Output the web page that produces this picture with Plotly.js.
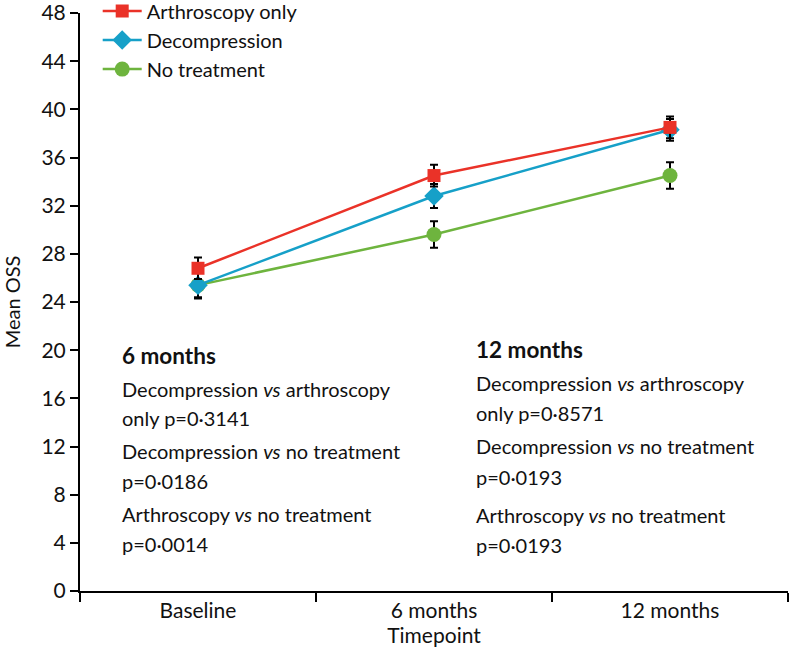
<!DOCTYPE html>
<html>
<head>
<meta charset="utf-8">
<script src="https://cdn.plot.ly/plotly-3.0.1.min.js"></script>
<style>
  body { margin: 0; background: #fff; }
  #chart { width: 790px; height: 649px; }
</style>
</head>
<body>
<div id="chart"></div>
<script>
var timepoints = ['Baseline', '6 months', '12 months'];

var arthroMean = [26.8, 34.5, 38.5];
var arthroErr = [0.9, 0.9, 0.9];
var decompMean = [25.4, 32.8, 38.3];
var decompErr = [1.0, 1.0, 0.9];
var noTreatMean = [25.4, 29.6, 34.5];
var noTreatErr = [1.1, 1.1, 1.1];

var yTicks = [0, 4, 8, 12, 16, 20, 24, 28, 32, 36, 40, 44, 48];

// p value text blocks
var leftNotes = ['<b>6 months</b>',
  'Decompression <i>vs</i> arthroscopy', 'only p=0·3141',
  'Decompression <i>vs</i> no treatment', 'p=0·0186',
  'Arthroscopy <i>vs</i> no treatment', 'p=0·0014'];
var leftNoteY = [355, 389, 418, 451, 481, 514, 544];
var rightNotes = ['<b>12 months</b>',
  'Decompression <i>vs</i> arthroscopy', 'only p=0·8571',
  'Decompression <i>vs</i> no treatment', 'p=0·0193',
  'Arthroscopy <i>vs</i> no treatment', 'p=0·0193'];
var rightNoteY = [350, 383, 413, 446, 477, 515, 545];

var FONT = 'Lato, sans-serif';
var H = 649;

function series(name, y, err, color, symbol, size) {
  return {
    x: timepoints,
    y: y,
    name: name,
    type: 'scatter',
    mode: 'lines+markers',
    line: {color: color, width: 2.5},
    marker: {color: color, symbol: symbol, size: size},
    error_y: {type: 'data', array: err, visible: true, color: '#000', thickness: 2, width: 4}
  };
}

var data = [
  series('No treatment', noTreatMean, noTreatErr, 'rgb(110,180,62)', 'circle', 15),
  series('Decompression', decompMean, decompErr, 'rgb(22,160,200)', 'diamond', 15),
  series('Arthroscopy only', arthroMean, arthroErr, 'rgb(234,50,40)', 'square', 13)
];

var annotations = [];
function addNotes(list, ys, xpx) {
  for (var i = 0; i < list.length; i++) {
    annotations.push({
      text: list[i],
      xref: 'paper', yref: 'paper',
      x: (xpx - 80) / 708,
      y: (H - 58 - ys[i]) / (H - 58 - 13),
      xanchor: 'left', yanchor: 'middle',
      showarrow: false,
      font: {family: FONT, size: i == 0 ? 22.5 : 20, color: '#111'}
    });
  }
}
addNotes(leftNotes, leftNoteY, 120);
addNotes(rightNotes, rightNoteY, 474);

var layout = {
  width: 790,
  height: 649,
  margin: {l: 80, r: 2, t: 13, b: 58, autoexpand: false},
  paper_bgcolor: '#fff',
  plot_bgcolor: '#fff',
  font: {family: FONT, size: 21, color: '#111'},
  showlegend: true,
  legend: {
    x: 0.025, y: 1.037, xanchor: 'left', yanchor: 'top',
    bgcolor: 'rgba(0,0,0,0)',
    traceorder: 'reversed',
    itemwidth: 39,
    font: {family: FONT, size: 20, color: '#111'}
  },
  xaxis: {
    type: 'category',
    range: [-0.5, 2.5],
    tickson: 'boundaries',
    ticks: 'outside', ticklen: 9, tickwidth: 2, tickcolor: '#000',
    showline: true, linecolor: '#000', linewidth: 2,
    showgrid: false, zeroline: false,
    tickfont: {family: FONT, size: 21},
    title: {text: 'Timepoint', font: {family: FONT, size: 21}, standoff: 2}
  },
  yaxis: {
    range: [0, 48],
    tickvals: yTicks,
    ticklabeloverflow: 'allow',
    ticks: 'outside', ticklen: 8, tickwidth: 2, tickcolor: '#000',
    showline: true, linecolor: '#000', linewidth: 2,
    showgrid: false, zeroline: false,
    tickfont: {family: FONT, size: 21},
    title: {text: 'Mean OSS', font: {family: FONT, size: 20}, standoff: 15}
  },
  annotations: annotations
};

Plotly.newPlot('chart', data, layout, {displayModeBar: false});
</script>
</body>
</html>
